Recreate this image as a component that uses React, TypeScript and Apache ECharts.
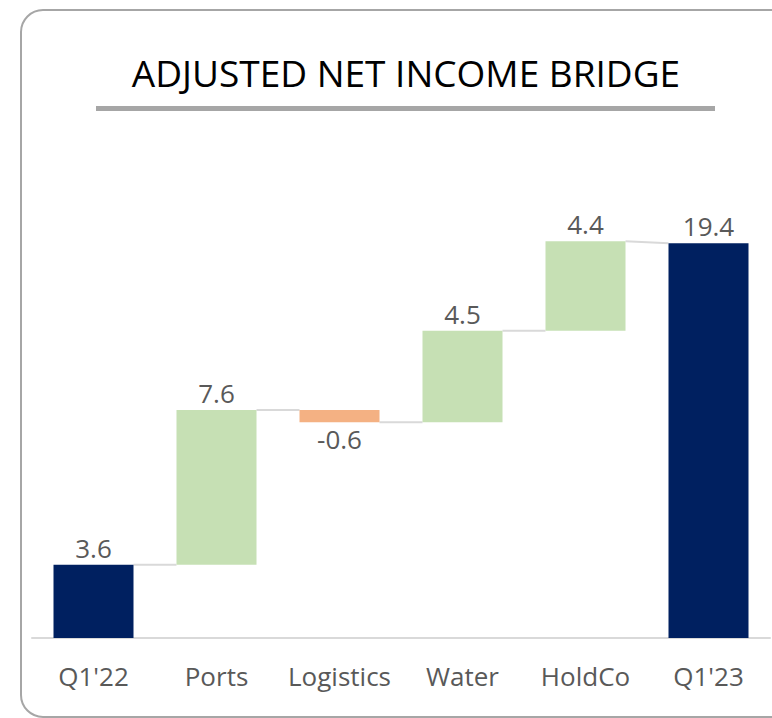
import React, { useEffect, useRef } from "react";
import * as echarts from "echarts";

const categories = ["Q1'22", "Ports", "Logistics", "Water", "HoldCo", "Q1'23"];
const values = [3.6, 7.6, -0.6, 4.5, 4.4, 19.4];
const kinds = ["total", "delta", "delta", "delta", "delta", "total"];
const titleText = "ADJUSTED NET INCOME BRIDGE";

const NAVY = "#002060";
const GREEN = "#C6E0B4";
const ORANGE = "#F4B183";
const LABEL = "#595959";
const FONT = "'Open Sans', 'Noto Sans', sans-serif";

export default function App() {
  const ref = useRef<HTMLDivElement>(null);
  useEffect(() => {
    if (!ref.current) return;
    const chart = echarts.init(ref.current, null, { renderer: "svg" });

    const base: number[] = [];
    const size: number[] = [];
    const startLv: number[] = [];
    const endLv: number[] = [];
    let running = 0;
    values.forEach((v, i) => {
      if (kinds[i] === "total") {
        base.push(0);
        size.push(v);
        startLv.push(v);
        endLv.push(v);
        running = v;
      } else {
        const s = running;
        const e = running + v;
        base.push(Math.min(s, e));
        size.push(Math.abs(v));
        startLv.push(s);
        endLv.push(e);
        running = e;
      }
    });
    const connectors: number[][] = [];
    for (let i = 0; i < values.length - 1; i++) {
      connectors.push([i, endLv[i], startLv[i + 1]]);
    }

    const colorFor = (i: number) =>
      kinds[i] === "total" ? NAVY : values[i] >= 0 ? GREEN : ORANGE;

    chart.setOption({
      animation: false,
      grid: { left: 32, right: 2, top: 231, bottom: 80 },
      xAxis: {
        type: "category",
        data: categories,
        axisLine: { lineStyle: { color: "#d9d9d9", width: 2 } },
        axisTick: { show: false },
        axisLabel: {
          color: LABEL,
          fontSize: 26,
          fontFamily: FONT,
          margin: 25,
          interval: 0,
        },
      },
      yAxis: {
        type: "value",
        min: 0,
        max: 20,
        show: false,
        splitLine: { show: false },
      },
      graphic: [
        {
          type: "rect",
          shape: { x: 21, y: 10, width: 790, height: 707, r: 22 },
          style: { fill: "none", stroke: "#a6a6a6", lineWidth: 2 },
          silent: true,
        },
        {
          type: "text",
          x: 406,
          y: 72,
          style: {
            text: titleText,
            fill: "#000000",
            font: `37px ${FONT}`,
            textAlign: "center",
            textVerticalAlign: "middle",
          },
        },
        {
          type: "rect",
          shape: { x: 96, y: 106, width: 619, height: 5 },
          style: { fill: "#a6a6a6" },
        },
      ],
      series: [
        {
          type: "bar",
          stack: "wf",
          data: base,
          barWidth: 80,
          itemStyle: { color: "transparent" },
          silent: true,
        },
        {
          type: "bar",
          stack: "wf",
          barWidth: 80,
          data: size.map((s, i) => ({
            value: s,
            itemStyle: { color: colorFor(i) },
            label: {
              show: true,
              position: values[i] < 0 ? "bottom" : "top",
              distance: 4,
              formatter: values[i].toFixed(1),
              color: LABEL,
              fontSize: 26,
              fontFamily: FONT,
            },
          })),
        },
        {
          type: "custom",
          data: connectors,
          silent: true,
          z: 1,
          renderItem: (params: any, api: any) => {
            const i = api.value(0);
            const p1 = api.coord([i, api.value(1)]);
            const p2 = api.coord([i + 1, api.value(2)]);
            return {
              type: "line",
              shape: { x1: p1[0] + 40, y1: p1[1], x2: p2[0] - 40, y2: p2[1] },
              style: { stroke: "#d9d9d9", lineWidth: 2 },
            };
          },
        },
      ],
    });
    return () => chart.dispose();
  }, []);
  return (
    <div
      ref={ref}
      style={{ position: "absolute", left: 0, top: 0, width: 772, height: 718 }}
    />
  );
}
